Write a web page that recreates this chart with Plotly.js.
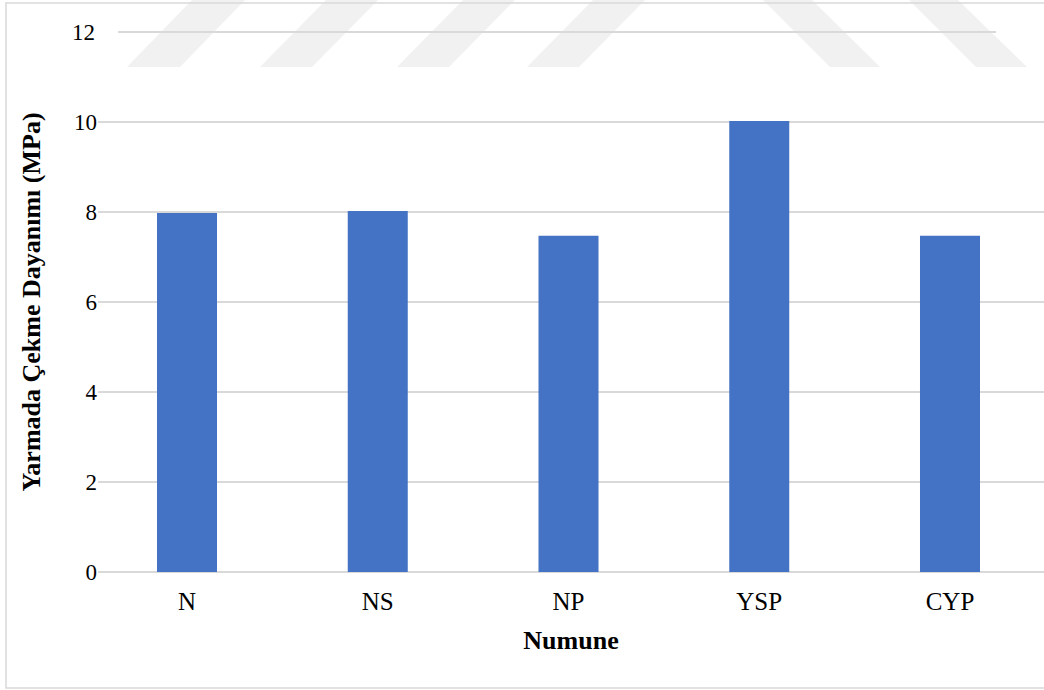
<!DOCTYPE html>
<html>
<head>
<meta charset="utf-8">
<script src="https://cdn.plot.ly/plotly-3.0.1.min.js"></script>
<style>html,body{margin:0;padding:0;background:#fff;}#chart{width:1044px;height:690px;}</style>
</head>
<body>
<div id="chart"></div>
<script>
const categories = ["N", "NS", "NP", "YSP", "CYP"];
const values = [7.98, 8.02, 7.47, 10.02, 7.47];
const yTickVals = [0, 2, 4, 6, 8, 10];
const yTickText = ["0", "2", "4", "6", "8", "10"];
const yTopTick = 12;
const xTitle = "Numune";
const yTitle = "Yarmada Çekme Dayanımı (MPa)";

const W = 1044, H = 690;
const L = 98, R = 0, T = 32, B = 118;
const pw = W - L - R, ph = H - T - B;
const px = v => (v - L) / pw;           // pixel x -> paper x
const py = v => (H - B - v) / ph;       // pixel y -> paper y

const serif = "Liberation Serif, Times New Roman, serif";
const grid = "#D9D9D9";
const stripe = "#F1F1F1";

function para(bl, br, tr, tl, yb, yt) {
  return {type: "path", xref: "paper", yref: "paper", layer: "below",
    path: `M ${px(bl)} ${py(yb)} L ${px(br)} ${py(yb)} L ${px(tr)} ${py(yt)} L ${px(tl)} ${py(yt)} Z`,
    fillcolor: stripe, line: {width: 0}};
}

const shapes = [
  para(127, 180, 245, 192, 67, 0),
  para(260, 312, 378, 326, 67, 0),
  para(397, 449, 515, 463, 67, 0),
  para(527, 579, 645, 593, 67, 0),
  para(830, 880, 812, 763, 67, 0),
  para(976, 1027, 958, 909, 67, 0),
  {type: "line", xref: "paper", yref: "paper", x0: px(118), x1: px(996), y0: 1, y1: 1,
    line: {color: grid, width: 2}, layer: "above"},
  {type: "rect", xref: "paper", yref: "paper", x0: px(6), x1: px(1060), y0: py(688), y1: py(3),
    line: {color: grid, width: 1.5}, fillcolor: "rgba(0,0,0,0)", layer: "above"}
];

const data = [{
  type: "bar",
  x: categories,
  y: values,
  width: 0.3146,
  marker: {color: "#4472C4"},
  hoverinfo: "x+y"
}];

const layout = {
  width: W, height: H,
  margin: {l: L, r: R, t: T, b: B, pad: 0},
  paper_bgcolor: "#ffffff",
  plot_bgcolor: "rgba(0,0,0,0)",
  showlegend: false,
  font: {family: serif, color: "#000"},
  xaxis: {
    type: "category",
    range: [-0.4666, 4.4928],
    showgrid: false, zeroline: false, showline: false, ticks: "",
    tickfont: {family: serif, size: 25, color: "#000"},
    ticklabelstandoff: 12,
    title: {text: xTitle, font: {family: serif, size: 26, color: "#000", weight: "bold"}, standoff: 16}
  },
  yaxis: {
    range: [0, yTopTick],
    tickvals: yTickVals, ticktext: yTickText,
    showgrid: true, gridcolor: grid, gridwidth: 1.5,
    zeroline: true, zerolinecolor: grid, zerolinewidth: 1.5,
    showline: false, ticks: "",
    tickfont: {family: serif, size: 23, color: "#000"},
    ticklabelstandoff: 0,
    title: {text: yTitle, font: {family: serif, size: 26, color: "#000", weight: "bold"}, standoff: 25}
  },
  shapes: shapes,
  annotations: [{
    xref: "paper", yref: "paper", x: px(97), y: 1, xanchor: "right", yanchor: "middle",
    text: String(yTopTick), showarrow: false, font: {family: serif, size: 23, color: "#000"}
  }]
};

Plotly.newPlot("chart", data, layout, {displayModeBar: false, staticPlot: true});
</script>
</body>
</html>
